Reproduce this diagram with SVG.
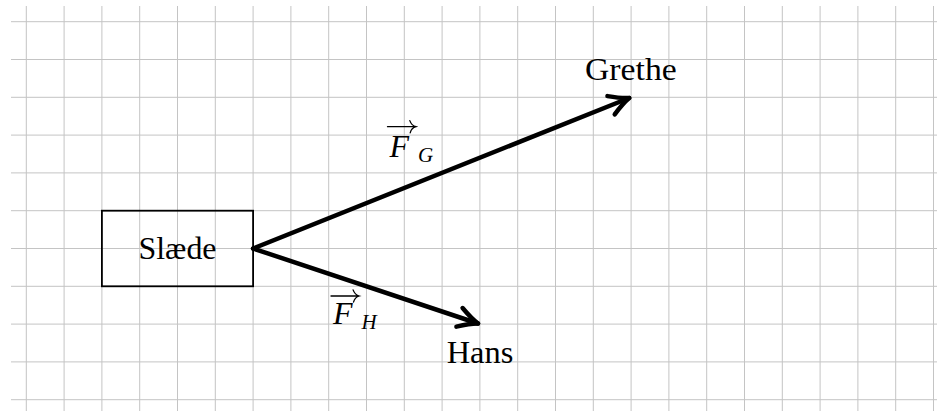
<svg xmlns="http://www.w3.org/2000/svg" width="937" height="411" viewBox="0 0 937 411">
<style>
.grid{stroke:#c4c4c4;stroke-width:1;fill:none}
.box{fill:none;stroke:#000;stroke-width:1.8}
.lbl{font-family:"Liberation Serif","Times New Roman",serif;font-size:32.5px;fill:#000}
.it{font-style:italic;font-size:32px}
.sub{font-family:"Liberation Serif","Times New Roman",serif;font-size:21px;font-style:italic;fill:#000}
.force{fill:none;stroke:#000;stroke-width:4.5;stroke-linecap:round}
.vec{fill:none;stroke:#000;stroke-width:1.3;stroke-linecap:round}
</style>
<defs>
<marker id="head" markerUnits="userSpaceOnUse" viewBox="-24 -14 28 28" markerWidth="28" markerHeight="28" refX="0" refY="0" orient="auto" overflow="visible">
<path d="M-19.5,-9.8 C-12,-5.2 -5,-1.6 0,0 C-5,1.6 -12,5.2 -19.5,9.8" fill="none" stroke="#000" stroke-width="4.5" stroke-linecap="round" stroke-linejoin="round"/>
</marker>
</defs>
<rect width="937" height="411" fill="#fff"/>
<g id="grid">
<path class="grid" d="M26.3,6V411M64.1,6V411M101.9,6V411M139.7,6V411M177.5,6V411M215.3,6V411M253.1,6V411M290.9,6V411M328.7,6V411M366.5,6V411M404.3,6V411M442.1,6V411M479.9,6V411M517.7,6V411M555.5,6V411M593.3,6V411M631.1,6V411M668.9,6V411M706.7,6V411M744.5,6V411M782.3,6V411M820.1,6V411M857.9,6V411M895.7,6V411M933.5,6V411"/>
<path class="grid" d="M11,21.7H937M11,59.5H937M11,97.3H937M11,135.1H937M11,172.9H937M11,210.7H937M11,248.5H937M11,286.3H937M11,324.1H937M11,361.9H937M11,399.7H937"/>
</g>
<g id="slaede">
<rect class="box" x="101.9" y="210.7" width="151.2" height="75.6"/>
<text class="lbl" x="177.5" y="259.3" text-anchor="middle" textLength="78" lengthAdjust="spacingAndGlyphs">Slæde</text>
</g>
<g id="grethe">
<text class="lbl" x="585" y="80" textLength="91.7" lengthAdjust="spacingAndGlyphs">Grethe</text>
</g>
<g id="hans">
<text class="lbl" x="446.7" y="362.7" textLength="66.6" lengthAdjust="spacingAndGlyphs">Hans</text>
</g>
<g id="connectors">
<path class="force" d="M253.1,248.5L629.2,98.0" marker-end="url(#head)"/>
<path class="force" d="M253.1,248.5L478.0,323.5" marker-end="url(#head)"/>
</g>
<g id="label-FG">
<path class="vec" d="M387.5,126.7H415.3M409.8,120.6Q411.5,125.4 416,126.7Q411.5,128 410.2,132.8"/>
<text class="lbl it" x="389.5" y="156.7">F</text>
<text class="sub" x="418" y="161.7">G</text>
</g>
<g id="label-FH">
<path class="vec" d="M331,296H358.6M353.1,289.9Q354.8,294.7 359.3,296Q354.8,297.3 353.5,302.1"/>
<text class="lbl it" x="333" y="324.3">F</text>
<text class="sub" x="361.5" y="329.3">H</text>
</g>
</svg>
